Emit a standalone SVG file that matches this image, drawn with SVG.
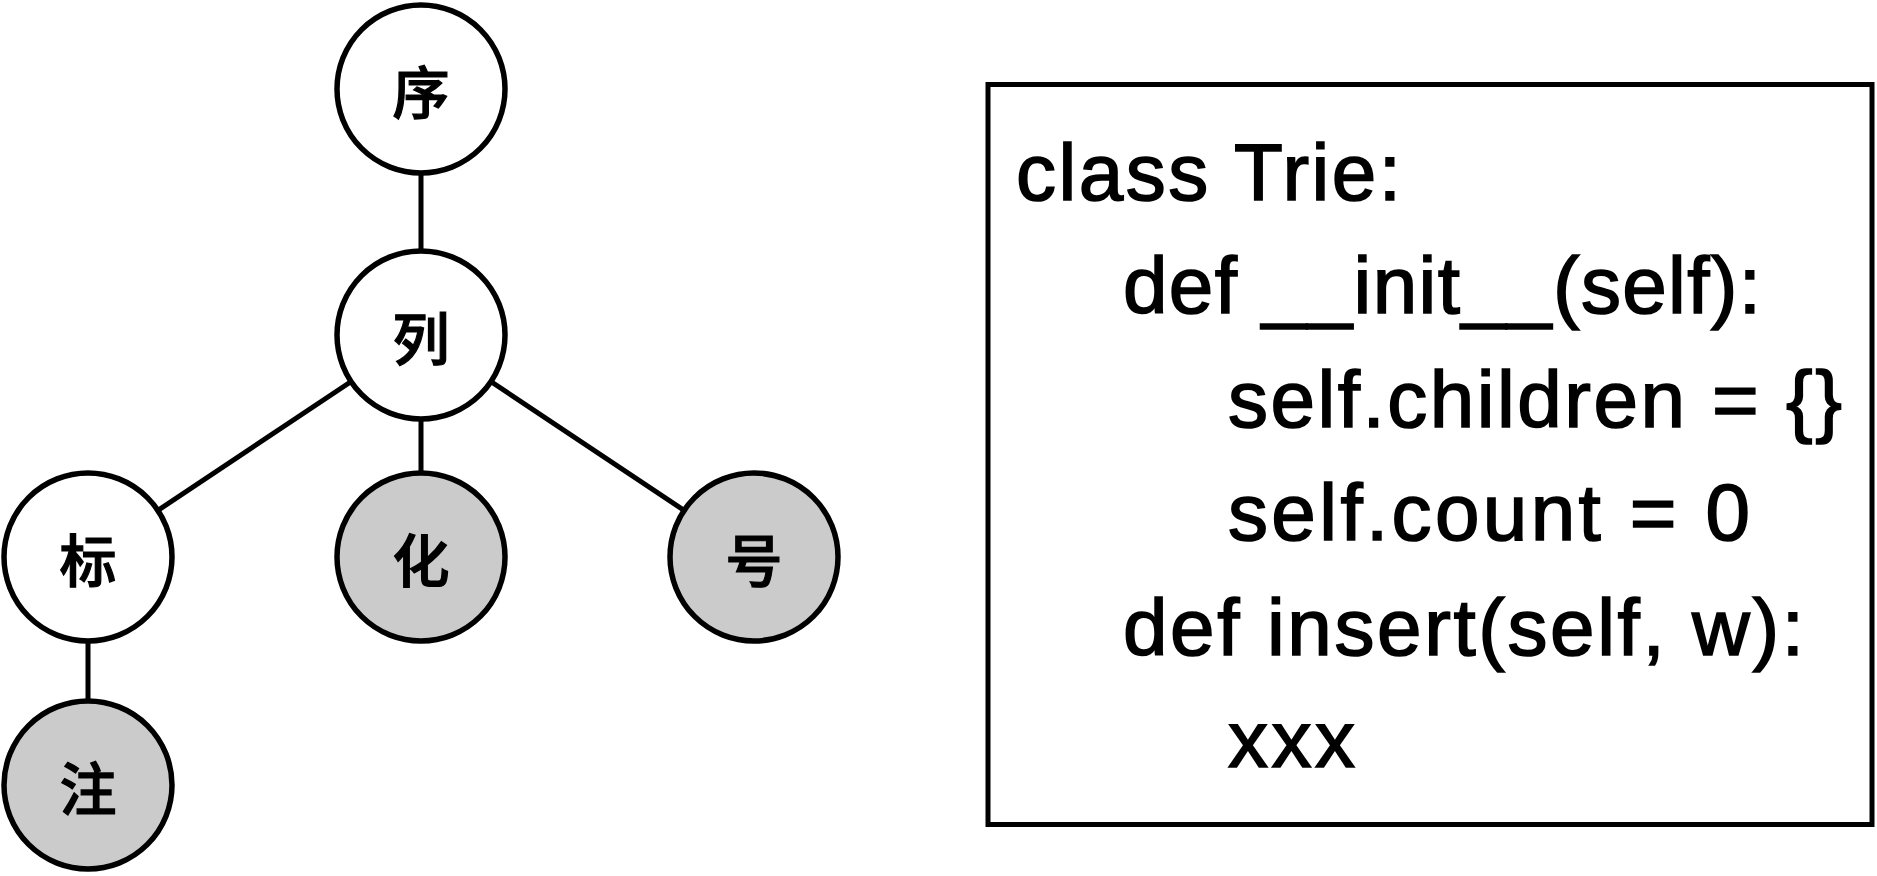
<svg xmlns="http://www.w3.org/2000/svg" width="1877" height="876" viewBox="0 0 1877 876">
<style>
.edge{stroke:#000;stroke-width:5;fill:none}
.node{stroke:#000;stroke-width:5.5;fill:#fff}
.leaf{fill:#cbcbcb}
.ch{font-family:"Noto Sans CJK SC","Noto Sans CJK JP",sans-serif;font-size:57px;font-weight:500;text-anchor:middle;fill:#000;stroke:#000;stroke-width:1.2}
.code{font-family:"Liberation Sans",Arial,sans-serif;font-size:80px;fill:#000;stroke:#000;stroke-width:1.6}
.box{stroke:#000;stroke-width:5;fill:#fff}
</style>
<rect width="1877" height="876" fill="#fff"/>
<g id="connectors">
<line class="edge" x1="421" y1="89" x2="421" y2="335"/>
<line class="edge" x1="421" y1="335" x2="88" y2="557"/>
<line class="edge" x1="421" y1="335" x2="421" y2="557"/>
<line class="edge" x1="421" y1="335" x2="754" y2="557"/>
<line class="edge" x1="88" y1="557" x2="88" y2="785"/>
</g>
<g id="node-xu"><circle class="node" cx="421" cy="89" r="84"/><text class="ch" x="421" y="114">序</text></g>
<g id="node-lie"><circle class="node" cx="421" cy="335" r="84"/><text class="ch" x="421" y="360">列</text></g>
<g id="node-biao"><circle class="node" cx="88" cy="557" r="84"/><text class="ch" x="88" y="582">标</text></g>
<g id="node-hua"><circle class="node leaf" cx="421" cy="557" r="84"/><text class="ch" x="421" y="582">化</text></g>
<g id="node-hao"><circle class="node leaf" cx="754" cy="557" r="84"/><text class="ch" x="754" y="582">号</text></g>
<g id="node-zhu"><circle class="node leaf" cx="88" cy="785" r="84"/><text class="ch" x="88" y="810">注</text></g>
<g id="code-box">
<rect class="box" x="988" y="84.5" width="884" height="740"/>
<text class="code" x="1016" y="200" textLength="385" lengthAdjust="spacing">class Trie:</text>
<text class="code" x="1123" y="313" textLength="638" lengthAdjust="spacing">def __init__(self):</text>
<text class="code" x="1228" y="427" textLength="614" lengthAdjust="spacing">self.children = {}</text>
<text class="code" x="1228" y="540" textLength="522" lengthAdjust="spacing">self.count = 0</text>
<text class="code" x="1123" y="655" textLength="681" lengthAdjust="spacing">def insert(self, w):</text>
<text class="code" x="1228" y="767" textLength="127" lengthAdjust="spacing">xxx</text>
</g>
</svg>
